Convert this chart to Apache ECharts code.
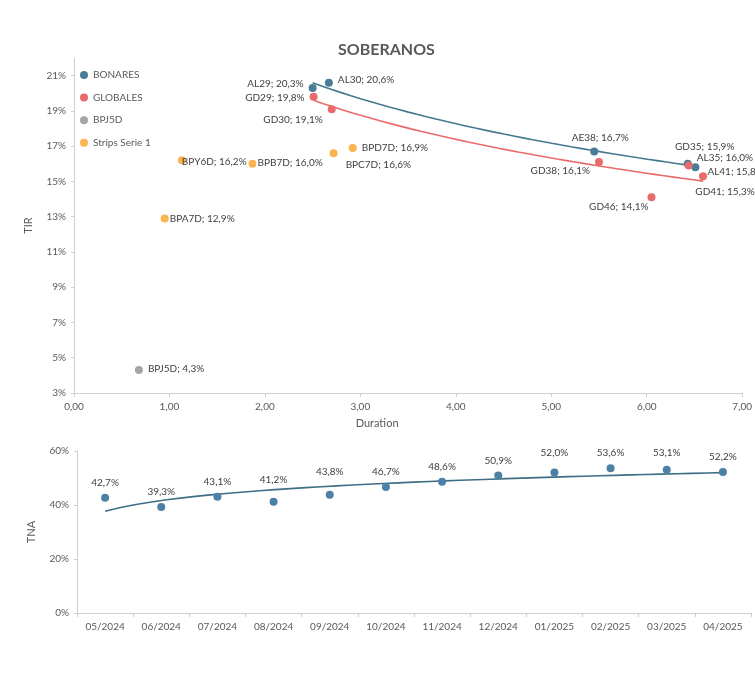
<!DOCTYPE html>
<html>
<head>
<meta charset="utf-8">
<script src="https://cdn.jsdelivr.net/npm/echarts@6/dist/echarts.min.js"></script>
<style>
html, body { margin: 0; padding: 0; background: #fff; }
#chart { width: 755px; height: 676px; }
</style>
</head>
<body>
<div id="chart"></div>
<script>
// datos - soberanos (duration / TIR %)
var bonaresNames = ['AL29', 'AL30', 'AE38', 'AL35', 'AL41'];
var bonaresDur = [2.50, 2.67, 5.45, 6.43, 6.51];
var bonaresTir = [20.3, 20.6, 16.7, 16.0, 15.8];

var globalesNames = ['GD29', 'GD30', 'GD38', 'GD46', 'GD35', 'GD41'];
var globalesDur = [2.51, 2.70, 5.50, 6.05, 6.44, 6.59];
var globalesTir = [19.8, 19.1, 16.1, 14.1, 15.9, 15.3];

var bpj5dNames = ['BPJ5D'];
var bpj5dDur = [0.68];
var bpj5dTir = [4.3];

var stripsNames = ['BPA7D', 'BPY6D', 'BPB7D', 'BPC7D', 'BPD7D'];
var stripsDur = [0.95, 1.13, 1.87, 2.72, 2.92];
var stripsTir = [12.9, 16.2, 16.0, 16.6, 16.9];

var tirTicks = [3, 5, 7, 9, 11, 13, 15, 17, 19, 21];

// TNA mensual
var months = ['05/2024', '06/2024', '07/2024', '08/2024', '09/2024', '10/2024',
              '11/2024', '12/2024', '01/2025', '02/2025', '03/2025', '04/2025'];
var tna = [42.7, 39.3, 43.1, 41.2, 43.8, 46.7, 48.6, 50.9, 52.0, 53.6, 53.1, 52.2];

// posicion de etiquetas (estilo, no datos)
var labelSpots = {
    AL29: ['left', [0, -4]], AL30: ['right', [0, -3]], AE38: ['top', [6, 0]],
    AL35: ['right', [0, -6]], AL41: ['right', [3, 4]],
    GD29: ['left', [0, 1]], GD30: ['left', [0, 11]], GD38: ['left', [0, 9]],
    GD46: ['left', [6, 9]], GD35: ['top', [16, -5]], GD41: ['bottom', [22, 2]],
    BPJ5D: ['right', [0, -1]],
    BPA7D: ['right', [-4, 0]], BPY6D: ['right', [-9, 2]], BPB7D: ['right', [-4, -1]],
    BPC7D: ['right', [3, 12]], BPD7D: ['right', [0, 0]]
};
var tnaLift = [0, 0, 0, 7, 8, 0, 0, 0, 5, 0, 2, 0];

var FONT = 'Lato';
var GREY = '#595959';

function pct(v) { return v.toFixed(1).replace('.', ',') + '%'; }

function points(names, xs, ys) {
    return names.map(function (n, i) {
        var s = labelSpots[n];
        return {
            name: n,
            value: [xs[i], ys[i]],
            label: { position: s[0], offset: s[1] }
        };
    });
}

// linea de tendencia logaritmica (minimos cuadrados)
function logFit(xs, ys) {
    var n = xs.length, mx = 0, my = 0;
    for (var i = 0; i < n; i++) { mx += Math.log(xs[i]); my += ys[i]; }
    mx /= n; my /= n;
    var sxy = 0, sxx = 0;
    for (var j = 0; j < n; j++) {
        var d = Math.log(xs[j]) - mx;
        sxy += d * (ys[j] - my);
        sxx += d * d;
    }
    var b = sxy / sxx;
    return { a: my - b * mx, b: b };
}

function trend(xs, ys) {
    var f = logFit(xs, ys);
    var lo = Math.min.apply(null, xs), hi = Math.max.apply(null, xs);
    var out = [];
    for (var k = 0; k <= 40; k++) {
        var x = lo + (hi - lo) * k / 40;
        out.push([x, f.a + f.b * Math.log(x)]);
    }
    return out;
}

var monthIdx = months.map(function (m, i) { return i + 1; });

var scatterLabel = {
    show: true,
    color: '#404040',
    fontFamily: FONT,
    fontSize: 10,
    distance: 5,
    formatter: function (p) { return p.name + '; ' + pct(p.value[1]); }
};

function scatter(name, color, names, xs, ys) {
    return {
        name: name,
        type: 'scatter',
        xAxisIndex: 0, yAxisIndex: 0,
        symbolSize: 8,
        itemStyle: { color: color, opacity: 1 },
        label: scatterLabel,
        emphasis: { disabled: true },
        data: points(names, xs, ys),
        z: 3
    };
}

function trendLine(color, xs, ys) {
    return {
        type: 'line',
        xAxisIndex: 0, yAxisIndex: 0,
        showSymbol: false,
        silent: true,
        lineStyle: { color: color, width: 1.6 },
        data: trend(xs, ys),
        z: 2
    };
}

var myChart = echarts.init(document.getElementById('chart'));

var option = {
    backgroundColor: '#fff',
    animation: false,
    textStyle: { fontFamily: FONT },
    title: {
        text: 'SOBERANOS',
        left: 333,
        top: 37,
        textStyle: { fontFamily: FONT, fontWeight: 'bold', fontSize: 16, color: GREY }
    },
    legend: {
        data: ['BONARES', 'GLOBALES', 'BPJ5D', 'Strips Serie 1'],
        orient: 'vertical',
        left: 75,
        top: 65,
        itemGap: 12.6,
        itemWidth: 8,
        itemHeight: 8,
        icon: 'circle',
        selectedMode: false,
        textStyle: { fontFamily: FONT, fontSize: 10, color: GREY }
    },
    grid: [
        { left: 74, right: 11, top: 58, height: 335 },
        { left: 77, right: 4, top: 451, height: 162 }
    ],
    xAxis: [
        {
            type: 'value', gridIndex: 0,
            min: 0, max: 7, interval: 1,
            name: 'Duration',
            nameLocation: 'middle',
            nameGap: 25,
            nameTextStyle: { fontFamily: FONT, fontSize: 11, color: GREY, padding: [0, 62, 0, 0] },
            axisLine: { lineStyle: { color: '#d0d0d0' } },
            axisTick: { show: true, length: 4, lineStyle: { color: '#d0d0d0' } },
            splitLine: { show: false },
            axisLabel: {
                color: GREY, fontSize: 10, margin: 9,
                formatter: function (v) { return v.toFixed(2).replace('.', ','); }
            }
        },
        {
            type: 'category', gridIndex: 1,
            data: months,
            boundaryGap: true,
            axisLine: { lineStyle: { color: '#d0d0d0' } },
            axisTick: { show: true, length: 4, lineStyle: { color: '#d0d0d0' } },
            axisLabel: { color: GREY, fontSize: 10, margin: 9 }
        },
        {
            type: 'value', gridIndex: 1,
            min: 0.5, max: 12.5,
            show: false
        }
    ],
    yAxis: [
        {
            type: 'value', gridIndex: 0,
            min: 3, max: 22, interval: 1,
            name: 'TIR',
            nameLocation: 'middle',
            nameGap: 40,
            nameTextStyle: { fontFamily: FONT, fontSize: 11, color: GREY },
            axisLine: { show: true, lineStyle: { color: '#d0d0d0' } },
            axisTick: { show: true, length: 3, customValues: tirTicks, lineStyle: { color: '#d0d0d0' } },
            splitLine: { show: false },
            axisLabel: {
                color: GREY, fontSize: 10, margin: 8,
                customValues: tirTicks,
                formatter: function (v) { return v + '%'; }
            }
        },
        {
            type: 'value', gridIndex: 1,
            min: 0, max: 60, interval: 20,
            name: 'TNA',
            nameLocation: 'middle',
            nameGap: 40,
            nameTextStyle: { fontFamily: FONT, fontSize: 11, color: GREY },
            axisLine: { show: true, lineStyle: { color: '#d0d0d0' } },
            axisTick: { show: true, length: 3, lineStyle: { color: '#d0d0d0' } },
            splitLine: { show: false },
            axisLabel: {
                color: GREY, fontSize: 10, margin: 8,
                formatter: function (v) { return v + '%'; }
            }
        }
    ],
    series: [
        trendLine('#44788f', bonaresDur, bonaresTir),
        trendLine('#e96a6a', globalesDur, globalesTir),
        scatter('BONARES', '#4a7c98', bonaresNames, bonaresDur, bonaresTir),
        scatter('GLOBALES', '#e96a6a', globalesNames, globalesDur, globalesTir),
        scatter('BPJ5D', '#a5a5a5', bpj5dNames, bpj5dDur, bpj5dTir),
        scatter('Strips Serie 1', '#fbb44e', stripsNames, stripsDur, stripsTir),
        {
            name: 'TNA',
            type: 'scatter',
            xAxisIndex: 1, yAxisIndex: 1,
            symbolSize: 8,
            itemStyle: { color: '#4d80a5', opacity: 1 },
            emphasis: { disabled: true },
            data: tna.map(function (v, i) {
                return { value: v, label: { distance: 6 + tnaLift[i] } };
            }),
            label: {
                show: true, position: 'top',
                color: '#404040', fontFamily: FONT, fontSize: 10,
                formatter: function (p) { return pct(p.value); }
            },
            z: 3
        },
        {
            type: 'line',
            xAxisIndex: 2, yAxisIndex: 1,
            showSymbol: false,
            silent: true,
            lineStyle: { color: '#3f6f86', width: 1.6 },
            data: trend(monthIdx, tna),
            z: 2
        }
    ]
};
myChart.setOption(option);
</script>
</body>
</html>
